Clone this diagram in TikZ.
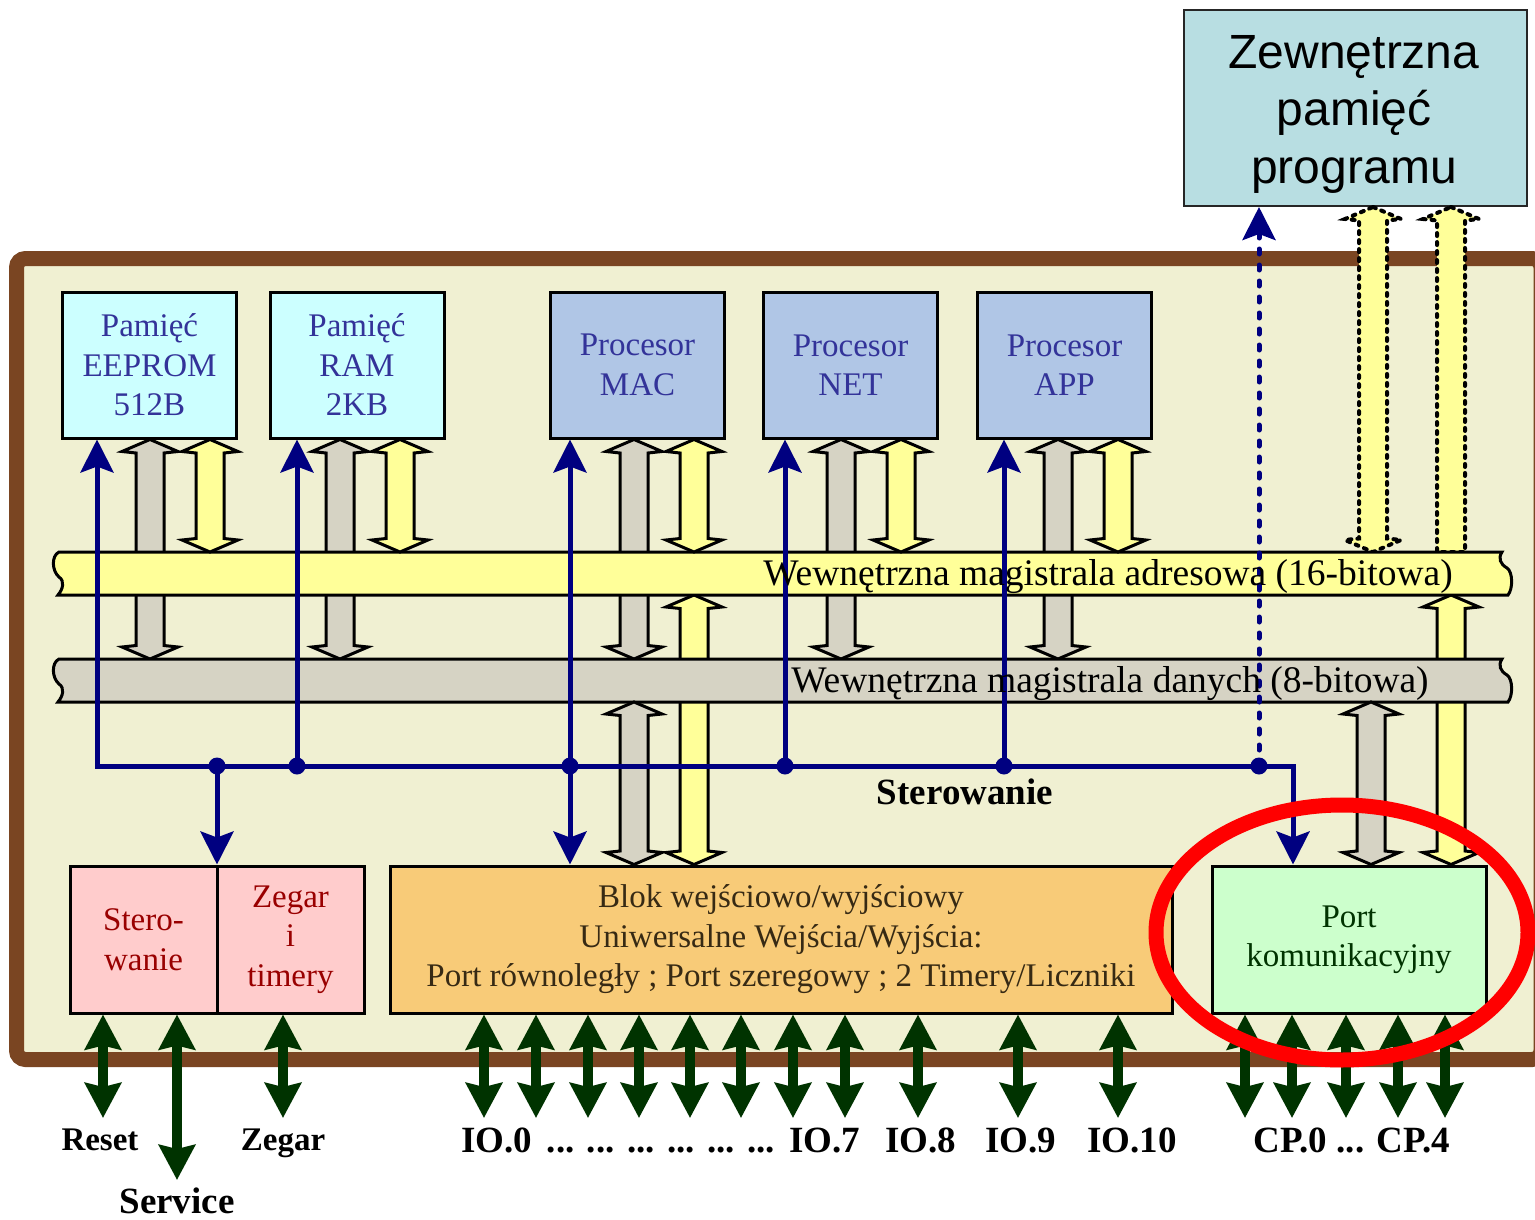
\documentclass[tikz,border=0pt]{standalone}
\usepackage{fontspec}
\setmainfont{Liberation Serif}
\newfontfamily\arialfont{Liberation Sans}
\usetikzlibrary{arrows.meta,calc}

\definecolor{framebrown}{RGB}{122,69,34}
\definecolor{cream}{RGB}{240,240,210}
\definecolor{cyanbox}{RGB}{204,255,255}
\definecolor{procbox}{RGB}{176,198,230}
\definecolor{extfill}{RGB}{184,222,226}
\definecolor{busyellow}{RGB}{255,255,153}
\definecolor{busgray}{RGB}{214,211,196}
\definecolor{pinkbox}{RGB}{255,204,204}
\definecolor{orangebox}{RGB}{248,203,120}
\definecolor{greenbox}{RGB}{204,255,204}
\definecolor{navy}{RGB}{0,0,128}
\definecolor{dkgreen}{RGB}{0,51,0}
\definecolor{txtblue}{RGB}{51,51,153}
\definecolor{txtred}{RGB}{153,0,0}
\definecolor{txtbrown}{RGB}{55,42,20}

% hollow double block arrow: style, x, top point, bottom point
\newcommand\dblarrow[4]{%
  \draw[#1] let \p1=(#3), \p2=(#4) in
    (#2pt,\y1) -- (#2pt+28pt,\y1-12pt) -- (#2pt+14pt,\y1-13.5pt)
    -- (#2pt+14pt,\y2+13.5pt) -- (#2pt+28pt,\y2+12pt) -- (#2pt,\y2)
    -- (#2pt-28pt,\y2+12pt) -- (#2pt-14pt,\y2+13.5pt)
    -- (#2pt-14pt,\y1-13.5pt) -- (#2pt-28pt,\y1-12pt) -- cycle;}
% hollow block arrow with a head at the top only
\newcommand\toparrow[4]{%
  \draw[#1] let \p1=(#3), \p2=(#4) in
    (#2pt,\y1) -- (#2pt+28pt,\y1-12pt) -- (#2pt+14pt,\y1-13.5pt)
    -- (#2pt+14pt,\y2) -- (#2pt-14pt,\y2)
    -- (#2pt-14pt,\y1-13.5pt) -- (#2pt-28pt,\y1-12pt) -- cycle;}
% bus ribbon with wavy ends, drawn around a placeholder node
\newcommand\busshape[2]{%
  \draw[#1] let \p1=(#2.north west), \p2=(#2.south east) in
    (\x1+6pt,\y1) -- (\x2-10pt,\y1)
    .. controls (\x2-14pt,\y1-6pt) and (\x2-12pt,\y1-12pt) .. (\x2-5pt,\y1-16pt)
    .. controls (\x2+1pt,\y1-20pt) and (\x2+1pt,\y2+6pt) .. (\x2-4pt,\y2)
    -- (\x1+5pt,\y2)
    .. controls (\x1+10pt,\y2+6pt) and (\x1+12pt,\y2+14pt) .. (\x1+6pt,\y2+18pt)
    .. controls (\x1-1pt,\y2+24pt) and (\x1-2pt,\y1-4pt) .. (\x1+6pt,\y1)
    -- cycle;}

\tikzset{
  blockline/.style={draw=black, line width=3pt, line join=miter},
  yarrow/.style={blockline, fill=busyellow},
  garrow/.style={blockline, fill=busgray},
  dotarrow/.style={draw=black, line width=4pt, fill=busyellow, line cap=round,
    dash pattern=on 3pt off 6pt},
  busbox/.style={draw=none, inner sep=0pt, outer sep=0pt, minimum height=43pt},
  bustext/.style={font=\fontsize{37.5}{44}\selectfont, anchor=base},
  box/.style={draw=black, line width=3pt, inner sep=0pt, align=center,
    font=\fontsize{33}{39.5}\selectfont},
  topbox/.style={box, minimum width=174pt, minimum height=146pt},
  lowbox/.style={box, minimum height=147pt},
  ctrl/.style={draw=navy, line width=5pt, line join=miter},
  ctip/.tip={Stealth[length=33pt,width=33pt,inset=6pt]},
  gtip/.tip={Stealth[length=35pt,width=36pt,inset=4pt]},
  gio/.style={draw=dkgreen, line width=10pt, gtip-gtip},
  pinlabel/.style={font=\bfseries\fontsize{37}{44}\selectfont, anchor=base},
  smalllabel/.style={font=\bfseries\fontsize{33}{40}\selectfont, anchor=base},
}

\begin{document}
\begin{tikzpicture}[x=1pt,y=-1pt]
\useasboundingbox (0,0) rectangle (1535,1220);
\fill[white] (0,0) rectangle (1535,1220);

% chip outline
\draw[draw=framebrown, fill=cream, line width=15pt, rounded corners=9pt]
  (16.5,258.5) rectangle (1541,1059.5);

% blocks
\node[topbox, fill=cyanbox, text=txtblue] (eeprom) at (149.5,365) {Pamięć\\EEPROM\\512B};
\node[topbox, fill=cyanbox, text=txtblue] (ram) at (357,365) {Pamięć\\RAM\\2KB};
\node[topbox, fill=procbox, text=txtblue] (mac) at (637.5,365) {Procesor\\MAC};
\node[topbox, fill=procbox, text=txtblue] (net) at (850.5,365) {Procesor\\NET};
\node[topbox, fill=procbox, text=txtblue] (app) at (1064.5,365) {Procesor\\APP};
\node[draw=black!85, line width=2pt, fill=extfill, inner sep=0pt,
  minimum width=343pt, minimum height=196pt] (ext) at (1355,108) {};
\node[align=center, inner sep=0pt, font=\arialfont\fontsize{48}{57.5}\selectfont]
  (exttext) at (1354,114) {Zewnętrzna\\pamięć\\programu};

\node[lowbox, minimum width=147pt, fill=pinkbox, text=txtred] (ster) at (143.5,939.5) {Stero-\\wanie};
\node[lowbox, minimum width=147pt, fill=pinkbox, text=txtred] (zeg) at (290.5,939.5) {Zegar\\i\\timery};
\node[lowbox, minimum width=782pt, fill=orangebox, text=txtbrown] (io) at (781,939.5)
  {Blok wejściowo/wyjściowy\\Uniwersalne Wejścia/Wyjścia:\\Port równoległy ; Port szeregowy ; 2 Timery/Liczniki};
\node[lowbox, minimum width=274pt, fill=greenbox, text=dkgreen] (port) at (1349,939.5) {Port\\komunikacyjny};

% bus placeholders
\node[busbox, minimum width=1459pt] (abus) at (782.5,573.5) {};
\node[busbox, minimum width=1459pt] (dbus) at (782.5,680.5) {};

% data paths behind the address bus
\foreach \bx/\bn in {150/eeprom,340/ram,634/mac,841/net,1058/app}
  {\dblarrow{garrow}{\bx}{\bn.south}{dbus.north}}
\dblarrow{yarrow}{694}{abus.south}{io.north}
\dblarrow{yarrow}{1451}{abus.south}{port.north}
\dblarrow{dotarrow}{1373}{ext.south}{abus.north}
\toparrow{dotarrow}{1451}{ext.south}{abus.north}

% address bus
\busshape{draw=black, line width=3pt, fill=busyellow}{abus}
\foreach \bx/\bn in {210/eeprom,400/ram,694/mac,901/net,1118/app}
  {\dblarrow{yarrow}{\bx}{\bn.south}{abus.north}}

% data bus
\busshape{draw=black, line width=3pt, fill=busgray}{dbus}
\dblarrow{garrow}{634}{dbus.south}{io.north}
\dblarrow{garrow}{1371}{dbus.south}{port.north}

% control lines
\coordinate (c0) at (97,766);
\coordinate (c7) at (1293,766);
\coordinate (j1) at (217,766);
\coordinate (j2) at (297,766);
\coordinate (j3) at (570,766);
\coordinate (j4) at (785,766);
\coordinate (j5) at (1004,766);
\coordinate (j6) at (1259,766);
\draw[ctrl, ctip-ctip] (c0 |- eeprom.south) -- (c0) -- (c7) -- (c7 |- port.north);
\draw[ctrl, -ctip] (j1) -- (j1 |- ster.north);
\draw[ctrl, -ctip] (j2) -- (j2 |- ram.south);
\draw[ctrl, ctip-ctip] (j3 |- mac.south) -- (j3 |- io.north);
\draw[ctrl, -ctip] (j4) -- (j4 |- net.south);
\draw[ctrl, -ctip] (j5) -- (j5 |- app.south);
\draw[ctrl, -ctip, line cap=round, dash pattern=on 5pt off 11pt] (j6) -- (j6 |- ext.south);
\foreach \j in {j1,j2,j3,j4,j5,j6} \fill[navy] (\j) circle[radius=8.5pt];
\node[font=\bfseries\fontsize{37}{44}\selectfont, anchor=base] (sterlbl) at (965,804) {Sterowanie};

% bus names
\node[bustext] (atext) at (1108,585) {Wewnętrzna magistrala adresowa (16-bitowa)};
\node[bustext] (dtext) at (1110,692) {Wewnętrzna magistrala danych (8-bitowa)};

% external pins
\coordinate (preset) at (103,1118);
\coordinate (pservice) at (177,1180);
\coordinate (pzegar) at (283,1118);
\draw[gio] (ster.south -| preset) -- (preset);
\draw[gio] (ster.south -| pservice) -- (pservice);
\draw[gio] (zeg.south -| pzegar) -- (pzegar);
\foreach \px in {484,536,588,639,690,741,793,845,918,1018,1118}
  {\coordinate (pin) at (\px,1118); \draw[gio] (io.south -| pin) -- (pin);}
\foreach \px in {1245,1292,1346,1398,1445}
  {\coordinate (pin) at (\px,1118); \draw[gio] (port.south -| pin) -- (pin);}

\node[smalllabel] (lreset) at (100,1150) {Reset};
\node[smalllabel] (lzegar) at (283,1150) {Zegar};
\node[pinlabel] (lservice) at (177,1213) {Service};
\node[pinlabel] (lio0) at (497,1152) {IO.0};
\node[pinlabel] (ldots) at (661,1152) {... ... ... ... ... ...};
\node[pinlabel] (lio7) at (825,1152) {IO.7};
\node[pinlabel] (lio8) at (921,1152) {IO.8};
\node[pinlabel] (lio9) at (1021,1152) {IO.9};
\node[pinlabel] (lio10) at (1132,1152) {IO.10};
\node[pinlabel] (lcp) at (1352,1152) {CP.0 ... CP.4};

% highlight around the communication port
\draw[red, line width=15pt] (1342,932.5) ellipse [x radius=186pt, y radius=127.5pt];
\end{tikzpicture}
\end{document}
